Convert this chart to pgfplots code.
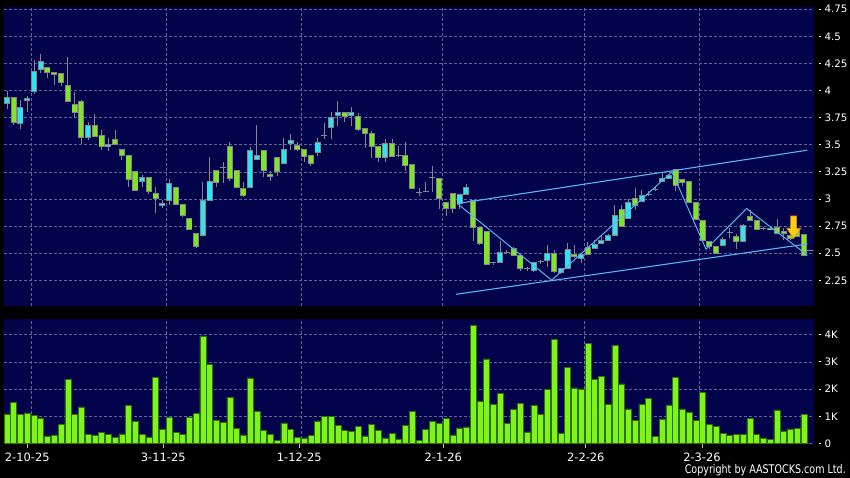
\documentclass[border=0pt]{standalone}
\usepackage{fontspec}
\setmainfont{DejaVu Sans}
\newfontfamily\copyfont{DejaVu Sans}[FakeStretch=0.8]
\usepackage{pgfplots}
\usepackage{pgfplotstable}
\pgfplotsset{compat=1.18}

\definecolor{navy}{RGB}{3,3,75}
\definecolor{gridc}{RGB}{100,100,150}
\definecolor{upc}{RGB}{45,228,240}
\definecolor{dnc}{RGB}{128,228,40}
\definecolor{edgec}{RGB}{135,135,135}
\definecolor{volc}{RGB}{125,245,25}
\definecolor{voledge}{RGB}{50,110,15}
\definecolor{trend}{RGB}{90,180,240}
\definecolor{arrowc}{RGB}{255,205,20}
\definecolor{arrowe}{RGB}{230,140,10}

% up candles (close > open)
\pgfplotstableread{
i o h l c
0 3.88 4.00 3.83 3.94
2 3.70 3.91 3.65 3.84
3 3.91 3.95 3.80 3.93
4 3.99 4.28 3.97 4.18
5 4.19 4.34 4.16 4.27
12 3.57 3.71 3.54 3.68
15 3.48 3.56 3.44 3.50
20 3.16 3.22 3.11 3.20
23 2.94 2.99 2.92 2.96
24 2.99 3.18 2.94 3.14
29 2.66 3.16 2.66 2.99
30 2.99 3.39 2.99 3.16
36 3.11 3.48 3.11 3.45
37 3.36 3.68 3.36 3.40
41 3.33 3.56 3.33 3.46
42 3.51 3.60 3.45 3.54
46 3.43 3.56 3.40 3.52
48 3.66 3.80 3.55 3.75
49 3.77 3.90 3.67 3.80
51 3.77 3.85 3.67 3.80
56 3.38 3.55 3.34 3.51
67 2.96 3.04 2.91 3.04
68 3.04 3.14 3.04 3.11
73 2.41 2.61 2.41 2.51
78 2.34 2.41 2.33 2.41
80 2.43 2.58 2.37 2.50
82 2.32 2.36 2.31 2.36
83 2.36 2.59 2.36 2.53
85 2.45 2.49 2.41 2.49
87 2.54 2.62 2.54 2.58
88 2.59 2.66 2.59 2.62
89 2.62 2.68 2.62 2.66
90 2.66 2.94 2.66 2.85
92 2.82 3.00 2.82 2.97
94 2.98 3.08 2.98 3.03
97 3.16 3.25 3.16 3.19
98 3.19 3.23 3.19 3.22
106 2.57 2.65 2.57 2.63
109 2.61 2.77 2.61 2.76
113 2.72 2.74 2.72 2.73
}\upT

% down candles (close < open)
\pgfplotstableread{
i o h l c
1 3.94 3.94 3.68 3.71
6 4.21 4.21 4.12 4.17
7 4.17 4.17 4.05 4.15
8 4.16 4.16 4.04 4.07
9 4.05 4.31 3.90 3.90
10 3.87 3.99 3.75 3.80
11 3.90 3.91 3.51 3.57
13 3.68 3.78 3.57 3.58
14 3.59 3.64 3.45 3.48
16 3.55 3.64 3.50 3.50
17 3.46 3.46 3.36 3.40
18 3.40 3.40 3.11 3.18
19 3.25 3.25 3.07 3.08
21 3.20 3.20 3.05 3.07
22 3.05 3.11 2.87 3.00
25 3.11 3.11 2.95 2.95
26 2.95 2.95 2.83 2.85
27 2.82 2.82 2.71 2.72
28 2.68 2.68 2.55 2.56
31 3.26 3.26 3.11 3.15
33 3.48 3.53 3.17 3.19
34 3.26 3.26 3.10 3.11
35 3.10 3.16 3.02 3.03
38 3.45 3.45 3.20 3.26
39 3.23 3.26 3.17 3.21
40 3.38 3.38 3.21 3.25
43 3.49 3.53 3.44 3.46
44 3.46 3.46 3.34 3.39
45 3.40 3.40 3.30 3.33
50 3.80 3.80 3.71 3.76
52 3.76 3.79 3.63 3.64
53 3.65 3.65 3.47 3.60
54 3.60 3.63 3.38 3.48
55 3.48 3.48 3.34 3.38
57 3.51 3.55 3.39 3.39
59 3.40 3.53 3.26 3.31
60 3.32 3.32 3.09 3.10
64 3.19 3.19 2.91 3.00
65 2.97 2.97 2.84 2.91
66 3.05 3.05 2.87 2.91
69 2.99 2.99 2.61 2.74
70 2.74 2.74 2.58 2.59
71 2.70 2.70 2.40 2.40
75 2.54 2.56 2.48 2.48
76 2.48 2.48 2.34 2.36
81 2.50 2.53 2.32 2.33
84 2.49 2.58 2.46 2.47
86 2.55 2.60 2.49 2.49
91 2.90 2.94 2.75 2.75
93 3.00 3.10 2.90 2.94
99 3.27 3.27 3.07 3.12
100 3.18 3.18 3.12 3.15
101 3.16 3.16 2.97 2.97
102 2.97 2.97 2.81 2.81
103 2.80 2.80 2.62 2.62
104 2.61 2.61 2.54 2.56
105 2.56 2.56 2.50 2.50
108 2.65 2.68 2.54 2.61
110 2.84 2.90 2.80 2.80
111 2.80 2.80 2.72 2.72
114 2.74 2.82 2.68 2.68
115 2.70 2.73 2.62 2.68
116 2.66 2.68 2.62 2.64
117 2.70 2.70 2.65 2.65
118 2.67 2.67 2.48 2.48
}\dnT

% unchanged (open = close)
\pgfplotstableread{
i o h l c
32 3.29 3.34 3.15 3.29
47 3.59 3.70 3.55 3.59
58 3.40 3.49 3.39 3.40
61 3.06 3.10 3.03 3.06
62 3.07 3.16 3.06 3.07
63 3.20 3.30 3.06 3.20
72 2.41 2.42 2.39 2.41
74 2.51 2.53 2.49 2.51
77 2.36 2.37 2.34 2.36
79 2.42 2.44 2.40 2.42
95 3.04 3.07 3.03 3.04
96 3.09 3.12 3.07 3.09
107 2.69 2.73 2.64 2.69
112 2.73 2.74 2.71 2.73
}\flatT

% volume (thousands)
\pgfplotstableread{
i v
0 1.09
1 1.52
2 1.07
3 1.13
4 1.04
5 0.95
6 0.29
7 0.32
8 0.70
9 2.35
10 1.08
11 1.35
12 0.34
13 0.30
14 0.41
15 0.35
16 0.24
17 0.36
18 1.40
19 0.82
20 0.35
21 0.25
22 2.42
23 0.53
24 0.97
25 0.41
26 0.35
27 0.98
28 1.12
29 3.95
30 2.90
31 0.87
32 0.78
33 1.70
34 0.57
35 0.32
36 2.41
37 1.19
38 0.48
39 0.35
40 0.13
41 0.76
42 0.52
43 0.24
44 0.21
45 0.31
46 0.84
47 1.00
48 1.01
49 0.68
50 0.49
51 0.46
52 0.63
53 0.29
54 0.71
55 0.48
56 0.21
57 0.37
58 0.18
59 0.68
60 1.18
61 0.12
62 0.52
63 0.81
64 0.75
65 0.92
66 0.32
67 0.58
68 0.62
69 4.33
70 1.54
71 3.11
72 1.45
73 1.84
74 0.74
75 1.25
76 1.47
77 0.43
78 1.41
79 1.07
80 1.98
81 3.82
82 0.38
83 2.80
84 2.05
85 2.01
86 3.67
87 2.36
88 2.47
89 1.45
90 3.61
91 2.19
92 1.28
93 0.86
94 1.43
95 1.65
96 0.26
97 0.91
98 1.42
99 2.42
100 1.28
101 1.14
102 0.85
103 1.87
104 0.71
105 0.63
106 0.37
107 0.31
108 0.35
109 0.34
110 0.93
111 0.34
112 0.21
113 0.15
114 1.24
115 0.47
116 0.54
117 0.56
118 1.08
}\volT

\newcommand{\tdash}{\rule[3.4bp]{2.6bp}{0.8bp}\hspace{3.4bp}}

\pgfplotsset{
  ebar/.style 2 args={draw=none, mark=none, forget plot,
    error bars/.cd, y dir=both, y explicit, error mark=none,
    error bar style={draw=#1, line width=#2, solid}},
  panel/.style={
    scale only axis, anchor=south west, width=809.5bp,
    xmin=-0.44, xmax=119.41,
    axis background/.style={fill=navy},
    axis line style={draw=none},
    grid=major,
    grid style={gridc, dash pattern=on 2.5bp off 2.5bp, line width=0.6bp},
    major tick length=0pt,
    xtick={3.66,23.65,43.64,64.45,85.5,102.56}, xticklabels={},
    xtick pos=bottom,
    yticklabel pos=right,
    yticklabel style={anchor=west, inner sep=0pt, xshift=4.8bp, text=white,
      font=\fontsize{10.3}{12}\selectfont},
    /pgf/number format/assume math mode=true,
  },
}

\begin{document}
\begin{tikzpicture}
\fill[black] (0,0) rectangle (850bp,478bp);

% ---------------- price panel ----------------
\begin{axis}[panel,
  at={(4bp,172bp)}, height=299bp,
  ymin=2.013, ymax=4.771,
  ytick={2.25,2.5,2.75,3,3.25,3.5,3.75,4,4.25,4.5,4.75},
  yticklabel={\tdash\pgfmathprintnumber{\tick}},
]
% wicks
\addplot[ebar={edgec}{0.9bp}] table[x=i, y=c, y error plus expr={\thisrow{h}-\thisrow{c}}, y error minus expr={\thisrow{c}-\thisrow{l}}] {\upT};
\addplot[ebar={edgec}{0.9bp}] table[x=i, y=c, y error plus expr={\thisrow{h}-\thisrow{c}}, y error minus expr={\thisrow{c}-\thisrow{l}}] {\dnT};
\addplot[ebar={edgec}{0.9bp}] table[x=i, y=c, y error plus expr={\thisrow{h}-\thisrow{c}}, y error minus expr={\thisrow{c}-\thisrow{l}}] {\flatT};
% body borders
\addplot[ebar={edgec}{6bp}] table[x=i, y expr={min(\thisrow{o},\thisrow{c})-0.0046}, y error plus expr={abs(\thisrow{c}-\thisrow{o})+0.0092}, y error minus expr={0}] {\upT};
\addplot[ebar={edgec}{6bp}] table[x=i, y expr={min(\thisrow{o},\thisrow{c})-0.0046}, y error plus expr={abs(\thisrow{c}-\thisrow{o})+0.0092}, y error minus expr={0}] {\dnT};
\addplot[ebar={edgec}{6bp}] table[x=i, y expr={\thisrow{c}-0.0046}, y error plus expr={0.0092}, y error minus expr={0}] {\flatT};
% body fills
\addplot[ebar={upc}{4.4bp}] table[x=i, y expr={min(\thisrow{o},\thisrow{c})+0.0046}, y error plus expr={max(abs(\thisrow{c}-\thisrow{o})-0.0092,0)}, y error minus expr={0}] {\upT};
\addplot[ebar={dnc}{4.4bp}] table[x=i, y expr={min(\thisrow{o},\thisrow{c})+0.0046}, y error plus expr={max(abs(\thisrow{c}-\thisrow{o})-0.0092,0)}, y error minus expr={0}] {\dnT};
% last price marker
\addplot[edgec, line width=0.8bp] coordinates {(118.45,2.53) (119.41,2.53)};
% channel and zigzag
\addplot[trend, line width=1.1bp] coordinates {(66.67,2.958) (118.5,3.450)};
\addplot[trend, line width=1.1bp] coordinates {(66.48,2.121) (118.5,2.585)};
\addplot[trend, line width=1bp] coordinates {(66.67,2.958) (80.65,2.251) (98.46,3.250) (103.5,2.537) (109.5,2.912) (118.5,2.482)};
% arrow
\addplot[fill=arrowc, draw=arrowe, line width=0.6bp] coordinates {(116.03,2.843) (116.92,2.843) (116.92,2.730) (117.52,2.730) (116.48,2.637) (115.44,2.730) (116.03,2.730)} -- cycle;
\end{axis}

% ---------------- volume panel ----------------
\begin{axis}[panel,
  at={(4bp,34bp)}, height=125bp,
  ymin=-0.01, ymax=4.57,
  ytick={0,1,2,3,4},
  yticklabels={{\tdash 0},{\tdash 1K},{\tdash 2K},{\tdash 3K},{\tdash 4K}},
  extra x ticks={3.0,23.14,43.28,64.6,85.7,102.9},
  extra x tick labels={2-10-25,3-11-25,1-12-25,2-1-26,2-2-26,2-3-26},
  extra x tick style={grid=none, major tick length=3.5bp, tick align=outside,
    major tick style={draw=white!75!black, line width=0.8bp}},
  xticklabel style={text=white, font=\fontsize{11.5}{13}\selectfont, yshift=-2bp},
]
\addplot[ybar, bar width=6bp, bar shift=0pt, fill=volc, draw=voledge, line width=0.5bp] table[x=i, y=v] {\volT};
\end{axis}

\node[anchor=base east, text=white, inner sep=0pt, font=\copyfont\fontsize{12}{14}\selectfont] at (846bp,4.5bp) {Copyright by AASTOCKS.com Ltd.};
\end{tikzpicture}
\end{document}
